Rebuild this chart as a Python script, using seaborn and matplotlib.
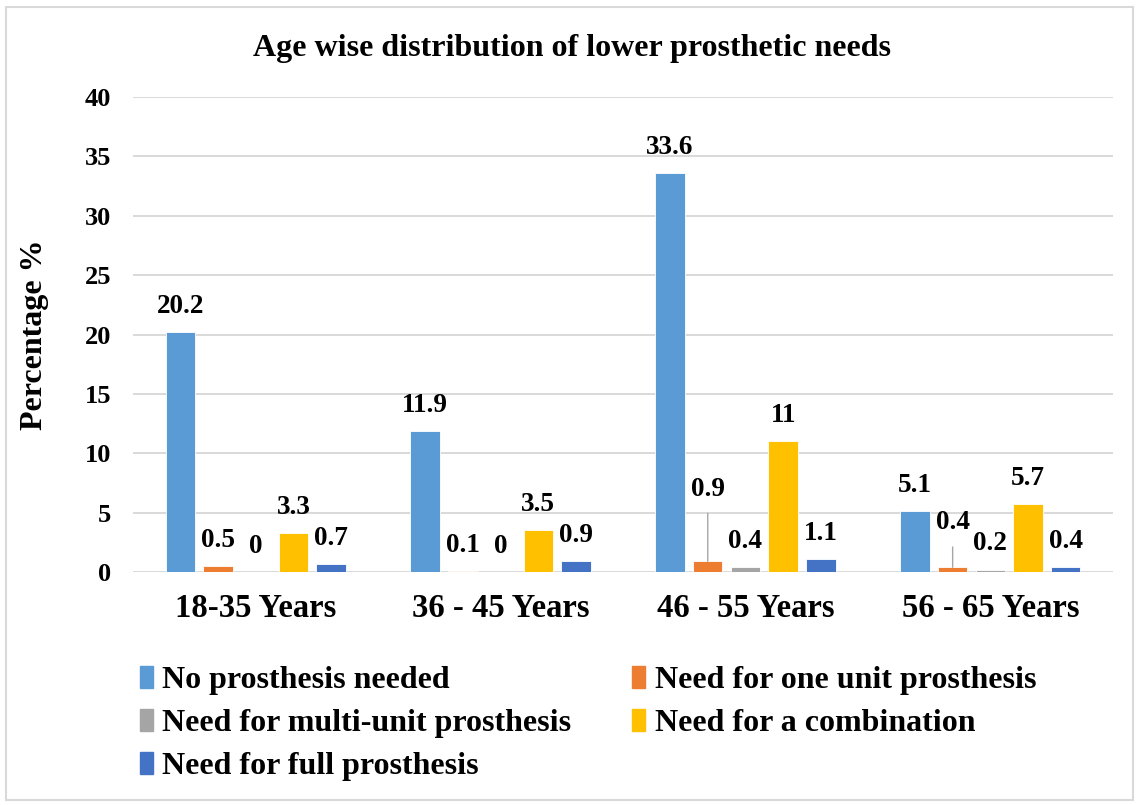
import matplotlib
matplotlib.use("Agg")
from matplotlib import pyplot as plt
from matplotlib.patches import Rectangle
import seaborn as sns
import pandas as pd

age_groups = ["18-35 Years", "36 - 45 Years", "46 - 55 Years", "56 - 65 Years"]
needs = ["No prosthesis needed", "Need for one unit prosthesis",
         "Need for multi-unit prosthesis", "Need for a combination",
         "Need for full prosthesis"]
no_need = [20.2, 11.9, 33.6, 5.1]
one_unit = [0.5, 0.1, 0.9, 0.4]
multi_unit = [0, 0, 0.4, 0.2]
combination = [3.3, 3.5, 11, 5.7]
full = [0.7, 0.9, 1.1, 0.4]

colors = ["#5B9BD5", "#ED7D31", "#A5A5A5", "#FFC000", "#4472C4"]

# labels that excel pushed up with a leader line: (series, group) -> offset in points
raised = {(1, 2): 52, (1, 3): 32}

rows = []
for name, vals in zip(needs, [no_need, one_unit, multi_unit, combination, full]):
    for age, v in zip(age_groups, vals):
        rows.append({"age": age, "need": name, "value": v})
df = pd.DataFrame(rows)

sns.set_style("white")
plt.rcParams['font.family'] = ['Liberation Serif', 'DejaVu Serif']
plt.rcParams['font.weight'] = 'bold'
plt.rcParams['text.color'] = 'black'
plt.rcParams['xtick.color'] = 'black'
plt.rcParams['ytick.color'] = 'black'

fig = plt.figure(figsize=(11.39, 8.05), dpi=100)
ax = fig.add_axes([0.117, 0.2894, 0.86, 0.5901])

sns.barplot(data=df, x="age", y="value", hue="need", hue_order=needs, order=age_groups,
            palette=colors, saturation=1, width=0.77, gap=0.22, ax=ax, legend=False,
            edgecolor="white", linewidth=0.6)

ax.set_ylim(0, 40)
ax.set_yticks(range(0, 41, 5))
ax.yaxis.grid(True, color="#D9D9D9", linewidth=1.4)
ax.set_axisbelow(True)
for s in ax.spines.values():
    s.set_visible(False)
ax.tick_params(axis="both", length=0)
ax.tick_params(axis="y", labelsize=19, pad=16)
ax.tick_params(axis="x", labelsize=23.5, pad=15)
for t in ax.get_xticklabels() + ax.get_yticklabels():
    t.set_fontweight("bold")
ax.set_xlabel("")
ax.set_ylabel("")

for i, cont in enumerate(ax.containers):
    for j, bar in enumerate(cont):
        x = bar.get_x() + bar.get_width() / 2
        h = bar.get_height()
        txt = "%g" % h
        if (i, j) in raised:
            ax.annotate(txt, xy=(x, h), xytext=(0, raised[(i, j)]), textcoords="offset points",
                        ha="center", va="center", fontsize=19.5, fontweight="bold",
                        arrowprops=dict(arrowstyle="-", color="#A6A6A6", lw=1,
                                        shrinkA=6, shrinkB=0))
        else:
            ax.annotate(txt, xy=(x, h), xytext=(0, 18.5), textcoords="offset points",
                        ha="center", va="center", fontsize=19.5, fontweight="bold")

fig.text(0.502, 0.94, "Age wise distribution of lower prosthetic needs",
         ha="center", va="center", fontsize=23, fontweight="bold")
fig.text(35 / 1139, 1 - 335 / 805, "Percentage %", rotation=90,
         ha="center", va="center", fontsize=23, fontweight="bold")

# excel fills the legend row by row, matplotlib column by column
order = [0, 2, 4, 1, 3]
handles = [Rectangle((0, 0), 1, 1, color=colors[k]) for k in order]
labels = [needs[k] for k in order]
fig.legend(handles, labels, loc="upper left", bbox_to_anchor=(140 / 1139, 1 - 666 / 805),
           ncol=2, frameon=False, prop={"weight": "bold", "size": 23},
           handlelength=0.4, handleheight=0.7, handletextpad=0.3,
           labelspacing=0.42, columnspacing=1.9, borderpad=0, borderaxespad=0)

fig.patches.append(Rectangle((6 / 1139, 5 / 805), 1 - 12 / 1139, 1 - 12 / 805,
                             transform=fig.transFigure, fill=False,
                             edgecolor="#D9D9D9", linewidth=1.5))

fig.savefig("out.png", dpi=100, facecolor="white")
